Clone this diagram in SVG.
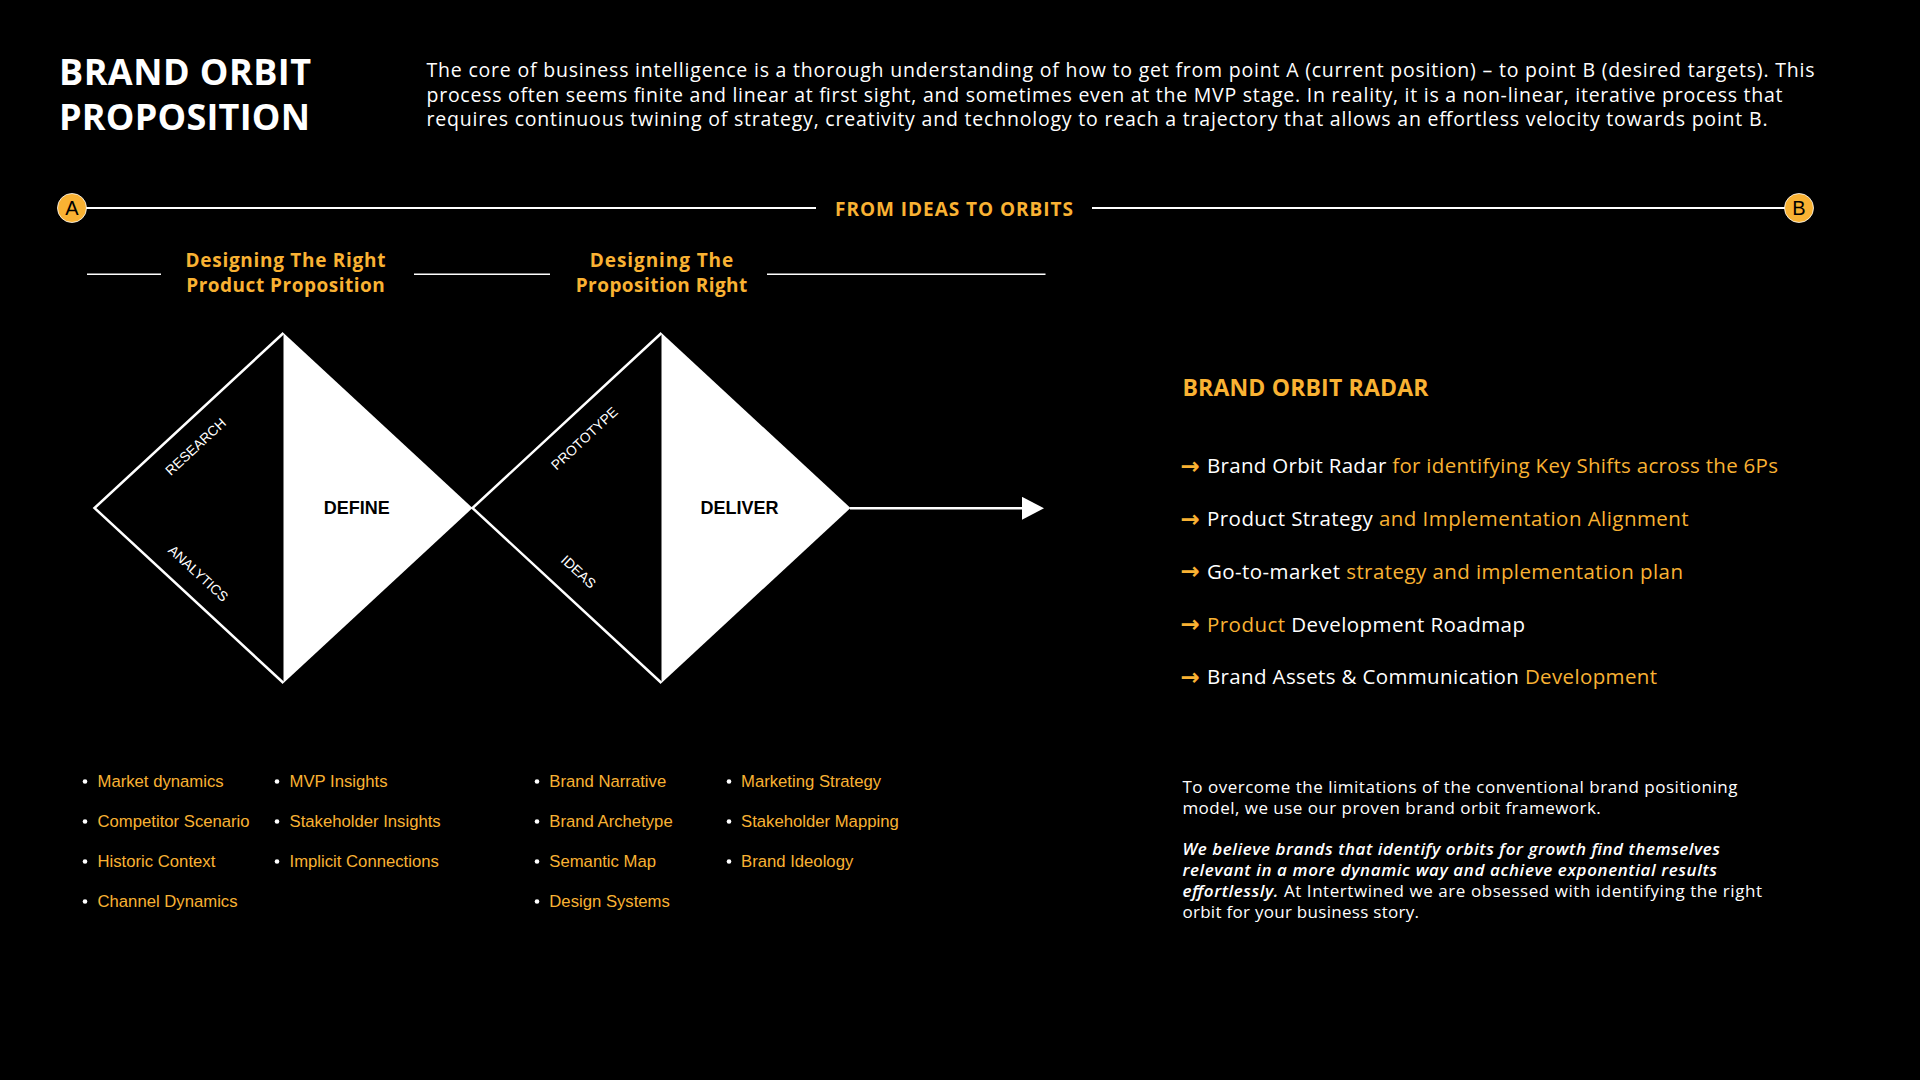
<svg xmlns="http://www.w3.org/2000/svg" width="1920" height="1080" viewBox="0 0 1920 1080">
<style>
.bg{fill:#000}
.w{fill:#fff}
.o{fill:#F9B233}
.sans{font-family:"Open Sans",Lato,"Liberation Sans",sans-serif}
.ar{font-family:"Liberation Sans",Arial,sans-serif}
.title{font-size:36px;font-weight:700}
.para{font-size:19.5px}
.head{font-size:19px;font-weight:700}
.sub{font-size:19px;font-weight:700;text-anchor:middle}
.line{stroke:#fff;stroke-width:2;fill:none}
.thin{stroke:#fff;stroke-width:1.5;fill:none}
.outline{stroke:#fff;stroke-width:2.5;fill:none;stroke-linejoin:miter}
.solid{fill:#fff}
.diag{font-size:13.8px;fill:#fff;text-anchor:middle}
.phase{font-size:18px;font-weight:700;fill:#000;text-anchor:middle}
.li{font-size:16.7px;fill:#F9B233}
.dot{fill:#fff}
.rad{font-size:20.5px}
.arrow{font-family:"DejaVu Sans",sans-serif;font-size:23px;font-weight:700;fill:#F9B233}
.foot{font-size:17px;fill:#fff}
.em{font-style:italic;font-weight:600}
.badge{fill:#F9B233;stroke:#fff;stroke-width:0.8}
.badgeT{font-family:"Liberation Sans",Arial,sans-serif;font-size:20px;fill:#000;text-anchor:middle}
</style>
<defs>
<marker id="tri" viewBox="0 0 22 23" refX="0" refY="11.5" markerWidth="22" markerHeight="23" markerUnits="userSpaceOnUse" orient="auto">
<path d="M0,0 L22,11.5 L0,23 Z" fill="#fff"/>
</marker>
</defs>
<rect class="bg" x="0" y="0" width="1920" height="1080"/>

<g id="header">
<text class="sans title w" x="59" y="85" textLength="252">BRAND ORBIT</text>
<text class="sans title w" x="59" y="130" textLength="251">PROPOSITION</text>
<text class="sans para w" x="426.5" y="77" textLength="1388">The core of business intelligence is a thorough understanding of how to get from point A (current position) – to point B (desired targets).  This</text>
<text class="sans para w" x="426.5" y="101.5" textLength="1356">process often seems finite and linear at first sight, and sometimes even at the MVP stage. In reality, it is a non-linear, iterative process that</text>
<text class="sans para w" x="426.5" y="126" textLength="1341">requires continuous twining of strategy, creativity and technology to reach a trajectory that allows an effortless velocity towards point B.</text>
</g>

<g id="timeline">
<line class="line" x1="86" y1="208" x2="816" y2="208"/>
<line class="line" x1="1092" y1="208" x2="1785" y2="208"/>
<text class="sans head o" x="835" y="215.7" textLength="238">FROM IDEAS TO ORBITS</text>
<g id="point-a">
<circle class="badge" cx="72" cy="208" r="14.5"/>
<text class="badgeT" x="72" y="215.2">A</text>
</g>
<g id="point-b">
<circle class="badge" cx="1799" cy="208" r="14.5"/>
<text class="badgeT" x="1799" y="215.2">B</text>
</g>
</g>

<g id="phase-headings">
<line class="thin" x1="87" y1="274.3" x2="161" y2="274.3"/>
<line class="thin" x1="414" y1="274.3" x2="550" y2="274.3"/>
<line class="thin" x1="767" y1="274.3" x2="1045.5" y2="274.3"/>
<text class="sans sub o" x="285.5" y="267" textLength="200">Designing The Right</text>
<text class="sans sub o" x="285.5" y="291.7" textLength="198.5">Product Proposition</text>
<text class="sans sub o" x="661.5" y="267" textLength="143.5">Designing The</text>
<text class="sans sub o" x="661.5" y="291.7" textLength="171.5">Proposition Right</text>
</g>

<g id="diamond-define">
<polygon class="solid" points="283.5,333 472.5,508 283.5,683"/>
<polyline class="outline" points="283.5,333 94.5,508 283.5,683"/>
<text class="ar phase" x="356.7" y="514">DEFINE</text>
<g transform="translate(195.5,446.7) rotate(-42.8)"><text class="ar diag" x="0" y="4.9">RESEARCH</text></g>
<g transform="translate(198.3,573.3) rotate(42.8)"><text class="ar diag" x="0" y="4.9">ANALYTICS</text></g>
</g>

<g id="diamond-deliver">
<polygon class="solid" points="661.5,333 850.5,508 661.5,683"/>
<polyline class="outline" points="661.5,333 472.5,508 661.5,683"/>
<text class="ar phase" x="739.4" y="514">DELIVER</text>
<g transform="translate(584.4,438.3) rotate(-42.8)"><text class="ar diag" x="0" y="4.9">PROTOTYPE</text></g>
<g transform="translate(578.6,571.7) rotate(42.8)"><text class="ar diag" x="0" y="4.9">IDEAS</text></g>
</g>

<g id="connectors">
<line x1="850" y1="508.3" x2="1022" y2="508.3" stroke="#fff" stroke-width="2.5" marker-end="url(#tri)"/>
</g>

<g id="list-define">
<circle class="dot" cx="85" cy="781.5" r="2.3"/><text class="ar li" x="97.5" y="786.7">Market dynamics</text>
<circle class="dot" cx="85" cy="821.5" r="2.3"/><text class="ar li" x="97.5" y="826.7">Competitor Scenario</text>
<circle class="dot" cx="85" cy="861.5" r="2.3"/><text class="ar li" x="97.5" y="866.7">Historic Context</text>
<circle class="dot" cx="85" cy="901.5" r="2.3"/><text class="ar li" x="97.5" y="906.7">Channel Dynamics</text>
<circle class="dot" cx="277" cy="781.5" r="2.3"/><text class="ar li" x="289.5" y="786.7">MVP Insights</text>
<circle class="dot" cx="277" cy="821.5" r="2.3"/><text class="ar li" x="289.5" y="826.7">Stakeholder Insights</text>
<circle class="dot" cx="277" cy="861.5" r="2.3"/><text class="ar li" x="289.5" y="866.7">Implicit Connections</text>
</g>

<g id="list-deliver">
<circle class="dot" cx="537" cy="781.5" r="2.3"/><text class="ar li" x="549.3" y="786.7">Brand Narrative</text>
<circle class="dot" cx="537" cy="821.5" r="2.3"/><text class="ar li" x="549.3" y="826.7">Brand Archetype</text>
<circle class="dot" cx="537" cy="861.5" r="2.3"/><text class="ar li" x="549.3" y="866.7">Semantic Map</text>
<circle class="dot" cx="537" cy="901.5" r="2.3"/><text class="ar li" x="549.3" y="906.7">Design Systems</text>
<circle class="dot" cx="729" cy="781.5" r="2.3"/><text class="ar li" x="741" y="786.7">Marketing Strategy</text>
<circle class="dot" cx="729" cy="821.5" r="2.3"/><text class="ar li" x="741" y="826.7">Stakeholder Mapping</text>
<circle class="dot" cx="729" cy="861.5" r="2.3"/><text class="ar li" x="741" y="866.7">Brand Ideology</text>
</g>

<g id="radar">
<text class="sans o" x="1182.4" y="396" font-size="23" font-weight="700" textLength="246">BRAND ORBIT RADAR</text>
<text class="arrow" x="1180.5" y="473.8">→</text>
<text class="sans rad w" x="1207" y="473.3" textLength="571"><tspan>Brand Orbit Radar</tspan><tspan class="o"> for identifying Key Shifts across the 6Ps</tspan></text>
<text class="arrow" x="1180.5" y="526.5">→</text>
<text class="sans rad w" x="1207" y="526" textLength="481.6"><tspan>Product Strategy</tspan><tspan class="o"> and Implementation Alignment</tspan></text>
<text class="arrow" x="1180.5" y="579.2">→</text>
<text class="sans rad w" x="1207" y="578.7" textLength="476"><tspan>Go-to-market</tspan><tspan class="o"> strategy and implementation plan</tspan></text>
<text class="arrow" x="1180.5" y="632">→</text>
<text class="sans rad w" x="1207" y="631.5" textLength="318"><tspan class="o">Product</tspan><tspan> Development Roadmap</tspan></text>
<text class="arrow" x="1180.5" y="684.7">→</text>
<text class="sans rad w" x="1207" y="684.2" textLength="450"><tspan>Brand Assets &amp; Communication</tspan><tspan class="o"> Development</tspan></text>
</g>

<g id="summary">
<text class="sans foot" x="1182.4" y="793" textLength="555">To overcome the limitations of the conventional brand positioning</text>
<text class="sans foot" x="1182.4" y="814" textLength="418.4">model, we use our proven brand orbit framework.</text>
<text class="sans foot em" x="1182.4" y="855" textLength="537.6">We believe brands that identify orbits for growth find themselves</text>
<text class="sans foot em" x="1182.4" y="876" textLength="534.6">relevant in a more dynamic way and achieve exponential results</text>
<text class="sans foot" x="1182.4" y="897" textLength="579.6"><tspan class="em">effortlessly.</tspan> At Intertwined we are obsessed with identifying the right</text>
<text class="sans foot" x="1182.4" y="918" textLength="236.6">orbit for your business story.</text>
</g>
</svg>
